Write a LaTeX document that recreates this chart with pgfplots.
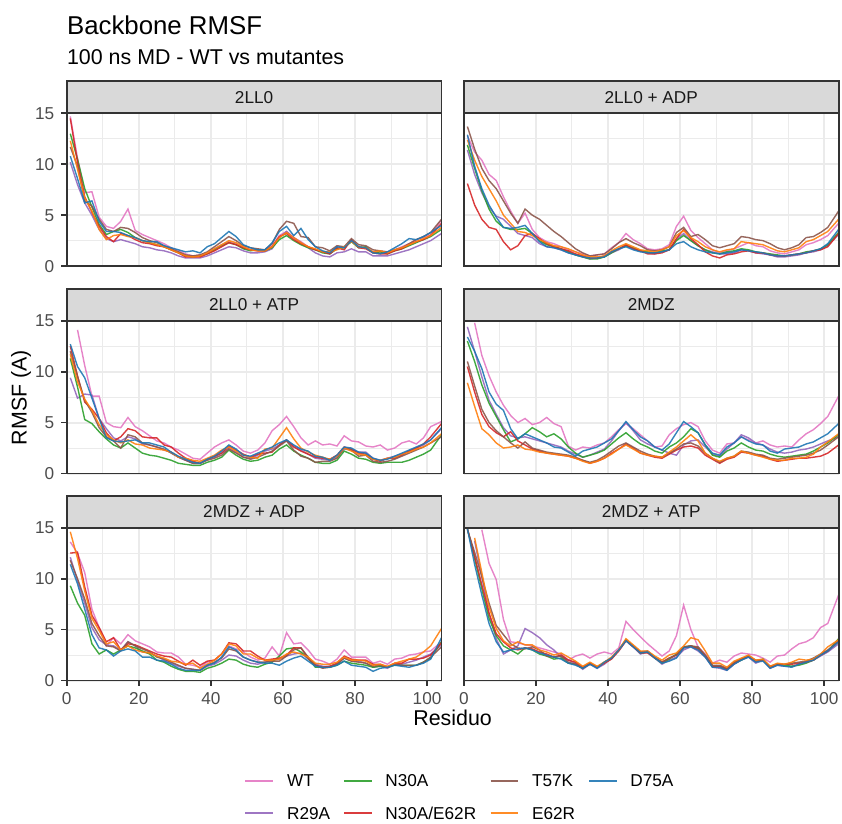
\documentclass[border=0pt]{standalone}
\usepackage{fontspec}
\setmainfont{Liberation Sans}
\usepackage{pgfplots}
\usepackage{pgfplotstable}
\pgfplotsset{compat=1.18}

\definecolor{cWT}{HTML}{E377C2}
\definecolor{cR29A}{HTML}{9467BD}
\definecolor{cN30A}{HTML}{2CA02C}
\definecolor{cNE}{HTML}{D62728}
\definecolor{cT57K}{HTML}{8C564B}
\definecolor{cE62R}{HTML}{FF7F0E}
\definecolor{cD75A}{HTML}{1F77B4}
\definecolor{grid92}{gray}{0.92}
\definecolor{g20}{gray}{0.2}
\definecolor{g30}{gray}{0.3}
\definecolor{g10}{gray}{0.1}
\definecolor{stripbg}{gray}{0.85}

% RMSF per residue (every second residue), one table per system
\pgfplotstableread{
x   WT   R29A N30A NE   T57K E62R D75A
1   14.7 10.2 13.0 14.5 11.7 12.3 10.8
3   10.6 8.0  10.5 10.2 9.8  9.5  8.6
5   7.2  6.2  7.6  6.8  6.4  6.7  6.2
7   7.3  5.0  5.8  5.3  5.9  5.4  6.4
9   4.8  3.6  4.1  3.9  4.6  3.6  4.4
11  3.9  2.7  3.1  2.9  3.6  2.6  3.4
13  3.7  2.4  3.4  2.4  3.4  3.0  3.4
15  4.4  2.6  3.6  3.2  3.8  3.1  3.3
17  5.6  2.4  3.3  3.0  3.7  2.9  3.0
19  3.5  2.2  2.8  2.6  3.3  2.8  2.8
21  3.1  1.9  2.5  2.3  2.8  2.5  2.5
23  2.8  1.8  2.3  2.2  2.5  2.3  2.4
25  2.5  1.6  2.1  2.0  2.3  2.1  2.4
27  2.2  1.5  1.9  1.9  2.0  1.9  2.0
29  1.8  1.3  1.6  1.6  1.7  1.6  1.8
31  1.5  1.0  1.3  1.3  1.4  1.3  1.6
33  1.2  0.8  1.0  0.9  1.1  1.0  1.4
35  1.0  0.8  0.9  0.9  1.0  0.9  1.5
37  1.1  0.8  1.0  0.9  1.1  1.0  1.3
39  1.3  1.0  1.2  1.2  1.4  1.3  1.9
41  1.7  1.3  1.6  1.5  1.9  1.7  2.2
43  2.1  1.6  2.0  1.9  2.4  2.1  2.8
45  2.4  1.9  2.3  2.3  2.9  2.5  3.4
47  2.2  1.8  2.1  2.1  2.5  2.3  2.9
49  1.8  1.5  1.7  1.8  2.0  1.9  2.1
51  1.6  1.3  1.5  1.6  1.8  1.6  1.8
53  1.5  1.3  1.6  1.5  1.7  1.5  1.6
55  1.6  1.4  1.5  1.5  1.6  1.5  1.6
57  2.0  1.7  1.8  1.9  2.2  1.9  2.3
59  3.0  2.8  2.6  2.9  3.6  2.8  3.4
61  3.4  3.4  3.0  3.2  4.4  3.3  3.9
63  2.8  2.8  2.5  2.6  4.2  2.8  3.0
65  2.4  2.3  2.1  2.2  2.9  2.3  3.7
67  1.9  1.8  1.8  1.9  2.8  1.9  2.6
69  1.6  1.3  1.6  1.6  1.9  1.7  1.9
71  1.4  1.0  1.3  1.4  1.8  1.4  1.5
73  1.2  0.9  1.2  1.2  1.5  1.4  1.3
75  1.8  1.3  1.7  1.8  2.0  1.6  1.9
77  1.9  1.4  1.8  1.6  1.9  1.9  1.8
79  2.5  1.7  2.4  2.6  2.7  2.4  2.5
81  1.9  1.4  1.8  1.8  2.1  1.9  1.9
83  1.8  1.4  1.9  1.7  2.0  1.8  1.8
85  1.4  1.0  1.3  1.3  1.6  1.4  1.3
87  1.3  1.0  1.4  1.2  1.5  1.5  1.2
89  1.3  1.0  1.2  1.2  1.4  1.3  1.4
91  1.6  1.2  1.5  1.5  1.6  1.6  1.8
93  1.9  1.4  1.7  1.7  1.8  1.8  2.2
95  2.2  1.6  2.0  2.1  2.2  2.1  2.7
97  2.6  1.9  2.3  2.4  2.6  2.4  2.6
99  2.8  2.2  2.6  2.6  2.9  2.7  2.9
101 3.1  2.5  2.9  3.0  3.3  3.0  3.3
104 4.5  3.2  3.6  4.2  4.6  3.8  4.0
}\tLL

\pgfplotstableread{
x   WT   R29A N30A NE   T57K E62R D75A
1   12.8 11.4 11.9 8.1  13.7 12.4 12.9
3   11.2 9.0  9.6  6.0  11.5 10.4 9.8
5   10.4 7.2  7.4  4.6  9.6  8.8  7.6
7   9.0  5.8  5.6  3.8  8.4  7.6  6.0
9   8.4  4.9  4.4  3.6  7.6  6.4  4.8
11  6.8  4.6  3.8  2.4  6.4  5.0  3.8
13  5.4  3.9  3.6  1.6  5.2  4.2  3.7
15  4.2  3.2  3.6  2.0  4.2  3.4  3.8
17  5.2  3.0  3.7  3.0  5.6  3.3  4.0
19  3.6  2.8  3.2  3.2  5.0  3.0  3.2
21  2.8  2.2  2.5  2.7  4.6  2.6  2.4
23  2.4  1.9  2.1  2.2  4.0  2.3  1.9
25  2.2  1.8  1.9  1.9  3.4  2.0  1.8
27  1.9  1.6  1.7  1.7  2.9  1.9  1.6
29  1.6  1.3  1.4  1.5  2.3  1.7  1.3
31  1.4  1.1  1.1  1.2  1.7  1.4  1.1
33  1.2  0.9  0.9  1.0  1.3  1.1  0.9
35  1.0  0.7  0.7  0.8  1.0  0.9  0.8
37  1.1  0.8  0.7  0.8  1.1  0.9  0.8
39  1.2  0.9  0.9  1.0  1.2  1.0  0.9
41  1.8  1.3  1.3  1.4  1.7  1.5  1.4
43  2.3  1.6  1.7  1.7  2.3  1.9  1.7
45  3.2  2.0  2.0  2.1  2.7  2.2  1.9
47  2.6  1.7  1.8  1.7  2.3  1.9  1.6
49  2.2  1.5  1.5  1.5  2.0  1.6  1.4
51  1.7  1.3  1.4  1.2  1.6  1.5  1.3
53  1.6  1.2  1.3  1.2  1.5  1.4  1.3
55  1.7  1.4  1.5  1.3  1.6  1.6  1.4
57  2.1  1.6  1.6  1.6  1.9  1.9  1.6
59  3.9  2.6  2.5  2.7  3.3  3.0  2.2
61  4.9  3.2  3.0  3.6  3.8  3.5  2.4
63  3.5  2.5  2.5  2.7  2.9  2.8  1.9
65  2.8  2.0  2.0  2.1  3.1  2.4  1.6
67  2.2  1.6  1.6  1.4  2.6  1.9  1.4
69  1.6  1.4  1.3  1.0  2.0  1.6  1.3
71  1.3  1.2  1.2  0.8  1.8  1.4  1.2
73  1.5  1.2  1.4  1.1  2.0  1.6  1.3
75  1.7  1.3  1.5  1.2  2.2  1.7  1.4
77  2.0  1.6  1.7  1.4  2.9  2.4  1.6
79  2.3  1.5  1.6  1.5  2.8  2.3  1.5
81  2.0  1.3  1.4  1.3  2.6  2.2  1.4
83  1.9  1.2  1.3  1.3  2.5  2.1  1.3
85  1.5  1.1  1.2  1.1  2.2  1.8  1.1
87  1.3  0.9  1.1  1.0  1.8  1.5  1.0
89  1.2  0.9  1.0  1.0  1.6  1.4  1.0
91  1.4  1.0  1.1  1.1  1.8  1.6  1.1
93  1.6  1.1  1.2  1.2  2.1  1.8  1.2
95  2.1  1.3  1.4  1.3  2.8  2.4  1.3
97  2.3  1.4  1.5  1.5  2.9  2.6  1.5
99  2.6  1.6  1.7  1.6  3.3  3.0  1.7
101 3.0  2.0  2.1  1.9  3.8  3.4  2.2
104 4.2  3.1  3.3  3.2  5.4  4.6  3.6
}\tLLADP

\pgfplotstableread{
x   WT   R29A N30A NE   T57K E62R D75A
1   nan  9.4  11.3 12.5 12.0 11.7 12.7
3   14.1 7.4  8.5  9.6  9.5  9.0  10.5
5   10.6 7.8  5.3  7.0  7.2  7.3  9.4
7   7.6  7.7  4.9  6.3  6.0  6.2  7.4
9   7.6  5.4  4.1  5.4  4.5  4.8  5.4
11  5.0  4.4  3.4  4.0  3.6  3.8  3.5
13  4.6  3.5  2.8  3.2  3.2  3.3  3.2
15  4.5  3.2  2.5  3.6  2.5  3.0  3.1
17  5.5  3.6  3.0  4.4  3.8  3.3  3.2
19  4.6  3.4  2.5  4.2  3.6  2.9  3.3
21  4.2  2.9  2.0  3.6  3.0  2.8  3.0
23  3.7  2.8  1.8  3.5  2.8  2.5  3.0
25  3.2  2.6  1.7  3.5  2.6  2.4  2.8
27  3.0  2.3  1.5  2.8  2.4  2.3  2.6
29  2.6  2.1  1.3  2.6  2.0  2.1  2.1
31  2.3  1.6  1.0  2.0  1.6  1.6  1.7
33  1.9  1.3  0.9  1.5  1.3  1.5  1.4
35  1.5  1.0  0.8  1.2  1.0  1.3  1.1
37  1.4  1.0  0.8  1.0  1.0  1.2  1.0
39  2.0  1.4  1.1  1.4  1.3  1.5  1.4
41  2.6  1.6  1.3  1.7  1.5  1.8  1.7
43  3.0  2.0  1.6  2.0  1.8  2.3  2.2
45  3.3  2.5  2.3  2.7  2.4  2.6  2.8
47  2.8  2.1  1.8  2.3  2.0  2.2  2.4
49  2.2  1.6  1.4  1.9  1.6  1.8  1.8
51  2.0  1.5  1.2  1.6  1.4  1.6  1.7
53  2.3  1.8  1.3  1.9  1.6  1.5  2.0
55  3.0  2.2  1.6  2.0  1.9  2.4  2.3
57  4.2  2.4  1.8  2.1  2.2  2.5  2.6
59  4.8  2.8  2.4  2.8  2.7  3.5  3.0
61  5.6  3.3  2.8  3.3  3.2  4.5  3.3
63  4.6  2.7  2.2  2.6  2.3  3.4  2.8
65  3.5  2.3  1.8  2.2  1.7  2.5  2.4
67  2.8  1.9  1.5  1.9  1.5  2.1  2.2
69  3.2  1.5  1.1  1.6  1.1  1.8  1.7
71  2.8  1.4  1.0  1.5  1.2  1.6  1.6
73  2.9  1.3  1.0  1.4  1.2  1.4  1.3
75  2.7  1.6  1.3  1.8  1.5  1.7  1.8
77  3.7  2.4  2.2  2.6  2.5  2.5  2.6
79  3.2  2.3  1.9  2.4  2.3  2.2  2.5
81  3.1  2.1  1.5  2.0  1.7  1.9  2.1
83  2.7  2.1  1.4  1.9  1.8  1.8  2.0
85  2.6  1.5  1.1  1.4  1.2  1.4  1.5
87  2.8  1.3  1.0  1.2  1.1  1.3  1.3
89  2.3  1.5  1.1  1.5  1.2  1.5  1.4
91  2.5  1.7  1.1  1.5  1.4  1.6  1.7
93  3.0  1.9  1.1  1.8  1.7  1.9  2.0
95  3.2  2.2  1.3  2.2  2.0  2.1  2.3
97  2.9  2.5  1.6  2.5  2.3  2.4  2.6
99  3.5  2.8  1.9  2.9  2.6  2.6  2.9
101 4.6  3.3  2.3  3.6  3.0  3.0  3.3
104 5.1  4.4  3.8  4.9  3.6  3.9  4.5
}\tLLATP

\pgfplotstableread{
x   WT   R29A N30A NE   T57K E62R D75A
1   nan  14.4 13.0 10.5 11.0 8.9  13.4
3   14.8 12.0 11.0 8.0  8.6  6.6  12.0
5   11.6 9.5  8.7  5.8  6.3  4.4  10.3
7   9.6  7.2  6.9  4.6  5.0  3.8  8.0
9   8.0  5.8  5.6  4.0  4.2  3.0  6.8
11  6.7  4.5  4.3  3.6  3.6  2.5  6.2
13  5.7  3.7  3.1  4.1  3.0  2.6  4.4
15  5.0  3.5  3.4  3.2  2.5  2.8  3.4
17  5.4  3.6  3.9  2.8  3.1  2.4  3.9
19  4.8  3.4  4.5  2.4  2.5  2.3  3.6
21  5.0  3.2  4.1  2.2  2.3  2.1  3.3
23  5.5  3.0  3.6  2.0  2.1  2.0  3.0
25  4.9  2.8  3.9  1.9  2.0  1.9  2.6
27  4.6  2.6  3.4  1.8  1.9  1.8  2.5
29  2.7  2.2  2.6  1.7  1.8  1.7  2.1
31  2.3  1.9  2.0  1.5  1.6  1.5  1.7
33  2.6  1.6  1.6  1.3  1.3  1.2  2.2
35  2.5  1.8  1.8  1.0  1.1  1.0  2.4
37  2.8  2.1  2.0  1.2  1.3  1.2  2.6
39  3.0  2.4  2.3  1.5  1.7  1.5  3.0
41  3.6  3.2  2.9  2.0  2.2  1.9  3.4
43  4.3  4.2  3.5  2.4  2.7  2.4  4.2
45  4.9  5.0  4.0  2.9  3.0  2.8  5.1
47  4.4  4.2  3.4  2.5  2.6  2.4  4.3
49  3.8  3.3  2.9  2.0  2.2  2.0  3.6
51  3.2  2.9  2.6  1.8  1.9  1.8  3.2
53  2.6  2.6  2.2  1.6  1.7  1.7  2.6
55  2.7  2.3  2.0  1.5  1.6  1.6  2.3
57  3.8  2.0  2.6  1.9  2.0  2.1  2.9
59  4.4  1.8  3.0  2.3  2.4  2.6  4.0
61  4.8  2.8  3.6  2.6  2.9  3.2  5.1
63  5.0  3.2  4.4  2.7  3.0  3.8  4.6
65  4.6  3.3  4.0  2.5  2.7  3.2  4.0
67  3.2  2.6  2.8  1.8  2.0  2.0  2.8
69  2.3  1.9  1.8  1.4  1.5  1.5  2.0
71  2.0  1.7  1.6  1.0  1.1  1.2  1.8
73  2.9  2.4  2.2  1.4  1.5  1.5  2.6
75  3.0  3.0  2.5  1.6  1.7  1.7  3.0
77  3.6  3.8  3.0  2.1  2.2  2.2  3.6
79  3.3  3.5  2.6  2.0  2.1  2.0  3.2
81  3.0  3.0  2.3  1.8  1.9  1.8  2.9
83  3.2  2.8  2.2  1.7  1.8  1.6  2.8
85  2.8  2.4  1.9  1.4  1.5  1.4  2.2
87  2.6  2.1  1.7  1.2  1.4  1.3  2.0
89  2.7  2.0  1.6  1.3  1.5  1.3  2.4
91  2.6  2.1  1.7  1.4  1.6  1.5  2.5
93  3.3  2.3  1.8  1.5  1.7  1.5  2.6
95  3.9  2.4  1.9  1.5  1.8  1.6  2.9
97  4.3  2.6  2.2  1.6  2.0  1.9  3.1
99  4.9  2.9  2.6  1.7  2.3  2.6  3.5
101 5.6  3.2  3.0  2.0  2.8  3.1  3.9
104 7.6  3.6  3.8  2.8  3.6  3.9  4.9
}\tMDZ

\pgfplotstableread{
x   WT   R29A N30A NE   T57K E62R D75A
1   13.6 12.1 9.3  12.5 11.8 14.6 11.4
3   12.5 9.8  7.6  12.6 10.0 12.0 9.5
5   10.6 7.6  6.4  9.2  8.0  8.8  7.0
7   7.0  5.2  3.6  6.4  5.6  6.1  4.5
9   5.2  4.0  2.6  5.2  4.4  4.9  3.2
11  3.4  3.5  3.0  3.8  3.4  3.6  3.0
13  4.2  3.4  2.6  4.2  3.3  3.8  2.4
15  3.6  3.0  3.0  3.0  2.9  3.0  2.9
17  4.5  3.8  3.4  3.6  3.8  3.4  3.1
19  3.9  3.4  3.2  3.5  3.4  3.0  2.9
21  3.6  2.8  2.9  3.2  3.1  2.8  2.3
23  3.3  2.7  2.6  2.9  2.8  2.7  2.3
25  2.8  2.4  2.0  2.6  2.3  2.4  2.0
27  2.7  2.0  1.8  2.4  2.1  2.2  1.9
29  2.7  1.7  1.4  2.3  1.8  1.9  1.6
31  2.3  1.4  1.1  1.9  1.5  1.8  1.2
33  1.6  1.2  0.9  1.5  1.2  1.6  1.0
35  1.5  1.1  0.9  2.0  1.1  1.7  1.0
37  1.3  1.0  0.8  1.5  1.0  1.2  1.0
39  1.8  1.4  1.2  1.9  1.5  1.6  1.5
41  2.0  1.6  1.4  2.0  1.8  2.0  1.7
43  2.6  2.0  1.7  2.6  2.2  2.6  2.3
45  3.4  2.5  2.1  3.7  3.1  3.6  3.3
47  3.1  2.4  2.0  3.6  2.9  3.4  3.0
49  2.8  2.0  1.6  2.9  2.3  2.6  2.3
51  2.3  1.7  1.4  2.9  2.0  2.6  2.0
53  2.0  1.6  1.3  2.4  1.8  2.2  1.8
55  2.2  1.8  1.6  2.0  1.8  2.0  1.7
57  3.3  2.0  1.8  2.1  1.9  2.0  1.7
59  2.4  2.1  2.4  2.2  1.9  2.1  1.5
61  4.7  2.4  3.1  2.5  2.4  2.6  1.9
63  3.6  2.6  3.2  3.2  3.0  2.8  2.2
65  3.7  2.7  2.8  3.2  3.2  2.6  2.4
67  3.0  2.1  2.2  2.2  2.3  2.3  1.9
69  2.1  1.6  1.3  1.5  1.5  1.7  1.4
71  1.9  1.4  1.3  1.3  1.2  1.6  1.3
73  1.6  1.4  1.3  1.4  1.3  1.6  1.3
75  2.1  1.6  1.5  1.7  1.6  1.8  1.5
77  3.0  2.2  1.9  2.4  2.2  2.3  1.9
79  2.3  1.9  1.7  2.1  1.9  2.0  1.5
81  2.3  1.9  1.6  2.0  1.8  2.0  1.4
83  2.3  1.7  1.5  2.0  1.7  1.9  1.3
85  1.7  1.3  1.3  1.6  1.4  1.5  0.9
87  1.9  1.4  1.4  1.6  1.5  1.6  1.2
89  1.6  1.2  1.3  1.3  1.3  1.4  1.3
91  2.1  1.6  1.5  1.7  1.6  1.7  1.5
93  2.2  1.6  1.5  1.7  1.5  1.9  1.4
95  2.5  1.8  1.5  2.1  1.5  2.1  1.3
97  2.6  2.0  1.5  2.1  1.5  2.3  1.5
99  2.8  2.3  1.8  2.2  1.8  2.8  1.7
101 2.9  2.6  2.2  2.5  2.3  3.4  2.1
104 3.8  3.5  3.8  3.7  3.3  5.1  4.2
}\tMDZADP

\pgfplotstableread{
x   WT   R29A N30A NE   T57K E62R D75A
1   nan  nan  14.9 14.9 14.8 nan  14.9
3   nan  13.7 12.0 12.2 12.6 14.0 11.4
5   14.8 10.2 9.0  9.4  10.2 10.6 8.4
7   11.5 6.6  6.1  6.6  7.6  7.2  5.6
9   9.9  4.1  4.4  4.6  5.4  5.1  3.8
11  6.0  2.6  3.4  3.8  4.5  3.9  2.8
13  3.8  3.0  3.0  3.2  3.6  3.4  3.0
15  3.7  3.4  2.6  3.0  3.2  3.8  3.1
17  3.5  5.1  3.2  3.2  3.1  3.5  3.2
19  3.4  4.7  3.0  3.1  3.3  3.5  3.0
21  3.2  4.2  2.6  2.8  3.0  3.0  2.7
23  3.0  3.5  2.4  2.6  2.4  2.8  2.5
25  2.8  3.0  2.1  2.3  2.3  2.5  2.3
27  2.6  2.3  2.2  2.5  2.4  2.7  2.1
29  2.0  2.0  1.7  2.0  1.8  2.3  1.7
31  2.4  1.7  1.6  1.8  1.6  1.9  1.5
33  2.6  1.1  1.2  1.3  1.2  1.4  1.2
35  2.2  1.6  1.7  1.7  1.6  1.8  1.6
37  2.6  1.2  1.3  1.3  1.3  1.4  1.2
39  2.8  1.6  1.8  1.7  1.8  1.8  1.8
41  2.6  2.2  2.2  2.1  2.2  2.3  2.2
43  3.2  2.9  3.0  2.9  3.0  3.0  3.0
45  5.8  3.9  4.0  3.9  4.0  4.1  3.9
47  5.0  3.3  3.4  3.3  3.4  3.5  3.3
49  4.3  2.6  2.7  2.7  2.8  2.9  2.7
51  3.6  2.8  2.8  2.7  2.9  2.9  2.8
53  3.0  2.2  2.2  2.2  2.3  2.4  2.2
55  2.4  1.6  1.7  1.8  1.8  2.0  1.7
57  2.9  2.0  2.1  2.2  2.2  2.5  1.9
59  4.4  2.3  2.6  2.5  2.5  2.7  2.2
61  7.4  3.0  3.3  3.2  3.3  3.4  3.2
63  5.0  3.3  3.4  3.4  3.4  4.2  3.3
65  3.3  2.9  3.2  3.1  3.3  4.0  3.0
67  2.6  2.3  2.4  2.4  2.5  2.9  2.3
69  1.7  1.3  1.4  1.4  1.5  1.7  1.3
71  2.0  1.2  1.4  1.4  1.5  1.7  1.3
73  1.8  1.0  1.1  1.1  1.2  1.3  1.0
75  2.4  1.6  1.7  1.7  1.8  1.9  1.6
77  2.7  2.0  2.0  2.1  2.1  2.2  2.0
79  2.6  2.3  2.4  2.4  2.4  2.5  2.3
81  2.5  1.7  1.9  1.9  2.0  2.0  1.8
83  2.2  2.0  2.1  2.0  2.0  2.1  1.9
85  1.8  1.2  1.3  1.3  1.4  1.4  1.2
87  2.4  1.5  1.6  1.6  1.6  1.7  1.5
89  2.5  1.4  1.5  1.6  1.6  1.6  1.4
91  3.1  1.4  1.4  1.6  1.7  1.8  1.3
93  3.6  1.6  1.5  1.7  1.8  2.1  1.6
95  3.8  1.8  1.7  1.8  1.9  2.0  1.8
97  4.2  2.0  2.0  2.0  2.2  2.1  2.0
99  5.2  2.4  2.5  2.5  2.6  2.6  2.5
101 5.6  2.8  2.9  2.9  3.0  3.3  2.9
104 8.4  3.6  4.1  3.9  3.8  4.0  3.8
}\tMDZATP

\newcommand{\rmsf}[1]{%
  \addplot[cWT]   table[x=x,y=WT]   {#1};
  \addplot[cR29A] table[x=x,y=R29A] {#1};
  \addplot[cN30A] table[x=x,y=N30A] {#1};
  \addplot[cNE]   table[x=x,y=NE]   {#1};
  \addplot[cT57K] table[x=x,y=T57K] {#1};
  \addplot[cE62R] table[x=x,y=E62R] {#1};
  \addplot[cD75A] table[x=x,y=D75A] {#1};
  \draw[g20, line width=0.9pt] (rel axis cs:0,0) rectangle (rel axis cs:1,1);
}

\pgfplotsset{
  panel/.style={
    width=187.4pt, height=76.4pt, scale only axis,
    anchor=north west,
    xmin=0, xmax=104, ymin=0, ymax=15,
    xtick={0,20,40,60,80,100}, ytick={0,5,10,15},
    minor xtick={10,30,50,70,90}, minor ytick={2.5,7.5,12.5},
    xtick pos=bottom, ytick pos=left,
    grid=both,
    major grid style={grid92, line width=1pt},
    minor grid style={grid92, line width=0.5pt},
    axis line style={g20, line width=0.9pt},
    tick style={g20, line width=0.9pt},
    tick align=outside, major tick length=2.7pt, minor tick length=0pt,
    tick label style={font=\fontsize{8.6}{10}\selectfont, text=g30},
    /pgf/number format/assume math mode=true,
    clip mode=individual,
    every axis plot/.append style={line width=0.7pt, opacity=0.9, mark=none},
    unbounded coords=discard,
  },
  nox/.style={xticklabels={}, xtick style={draw=none}},
  noy/.style={yticklabels={}, ytick style={draw=none}},
}

\newcommand{\strip}[2]{%
  \draw[fill=stripbg, draw=g20, line width=0.9pt] (#1.north west) rectangle ([yshift=16pt]#1.north east);
  \node[font=\fontsize{8.6}{10}\selectfont, text=g10] at ([yshift=8pt]#1.north) {#2};
}

\begin{document}
\begin{tikzpicture}
\useasboundingbox (0,0) rectangle (421pt,-412pt);

\node[anchor=base west, inner sep=0pt, font=\fontsize{12.9}{15}\selectfont] at (33.35pt,-17.35pt) {Backbone RMSF};
\node[anchor=base west, inner sep=0pt, font=\fontsize{10.7}{13}\selectfont] at (33.35pt,-32.5pt) {100 ns MD - WT vs mutantes};

\begin{axis}[panel, nox, name=p1, at={(33.35pt,-56.65pt)}]
\rmsf{\tLL}
\end{axis}
\begin{axis}[panel, nox, noy, name=p2, at={(231.9pt,-56.65pt)}]
\rmsf{\tLLADP}
\end{axis}
\begin{axis}[panel, nox, name=p3, at={(33.35pt,-160.35pt)}]
\rmsf{\tLLATP}
\end{axis}
\begin{axis}[panel, nox, noy, name=p4, at={(231.9pt,-160.35pt)}]
\rmsf{\tMDZ}
\end{axis}
\begin{axis}[panel, name=p5, at={(33.35pt,-263.85pt)}]
\rmsf{\tMDZADP}
\end{axis}
\begin{axis}[panel, noy, name=p6, at={(231.9pt,-263.85pt)}]
\rmsf{\tMDZATP}
\end{axis}

\strip{p1}{2LL0}
\strip{p2}{2LL0 + ADP}
\strip{p3}{2LL0 + ATP}
\strip{p4}{2MDZ}
\strip{p5}{2MDZ + ADP}
\strip{p6}{2MDZ + ATP}

\node[anchor=base, inner sep=0pt, font=\fontsize{10.7}{13}\selectfont] at (226.3pt,-362.5pt) {Residuo};
\node[rotate=90, inner sep=0pt, font=\fontsize{10.7}{13}\selectfont] at (10.6pt,-198.75pt) {RMSF (A)};

% legend (column-major, two rows)
\foreach \c/\lab/\kx/\tx/\ky in {
  cWT/WT/122.5/143.35/-390.35,
  cR29A/R29A/122.5/143.35/-406.65,
  cN30A/N30A/172.15/192.5/-390.35,
  cNE/N30A\slash E62R/172.15/192.5/-406.65,
  cT57K/T57K/245.35/265.85/-390.35,
  cE62R/E62R/245.35/265.85/-406.65,
  cD75A/D75A/294.5/315/-390.35}{
  \draw[\c, line width=1pt, opacity=0.9] (\kx pt,\ky pt) -- ++(13.85pt,0);
  \node[anchor=west, inner sep=0pt, font=\fontsize{8.6}{10}\selectfont] at (\tx pt,\ky pt) {\lab};
}
\end{tikzpicture}
\end{document}
